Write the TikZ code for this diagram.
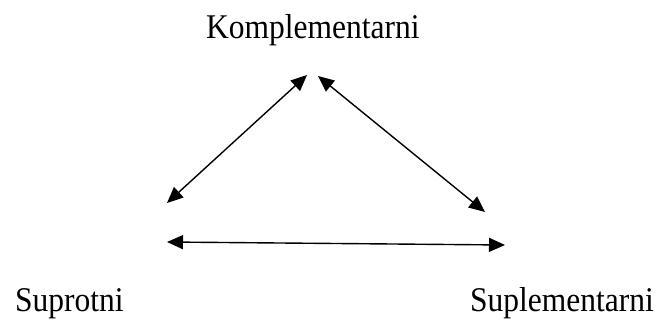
\documentclass[tikz,border=0pt]{standalone}
\usepackage{fontspec}
\setmainfont{Liberation Serif}
\usetikzlibrary{arrows.meta}
\begin{document}
\begin{tikzpicture}[x=1pt,y=-1pt,
  lbl/.style={anchor=base west,inner sep=0pt,yscale=1.1,font=\fontsize{31.5}{36}\selectfont},
  dbl/.style={line width=1.4pt,{Triangle[length=16pt,width=14pt]}-{Triangle[length=16pt,width=14pt]}}]
\useasboundingbox (0,0) rectangle (656,320);
\node[lbl] (k) at (206,39) {Komplementarni};
\node[lbl] (s) at (15,312) {Suprotni};
\node[lbl] (p) at (470,312) {Suplementarni};
\coordinate (a1) at (167,203);
\coordinate (a2) at (307,75);
\coordinate (b1) at (318,76);
\coordinate (b2) at (485,212);
\coordinate (c1) at (167,242);
\coordinate (c2) at (505,245);
\draw[dbl] (a1) -- (a2);
\draw[dbl] (b1) -- (b2);
\draw[dbl] (c1) -- (c2);
\end{tikzpicture}
\end{document}
